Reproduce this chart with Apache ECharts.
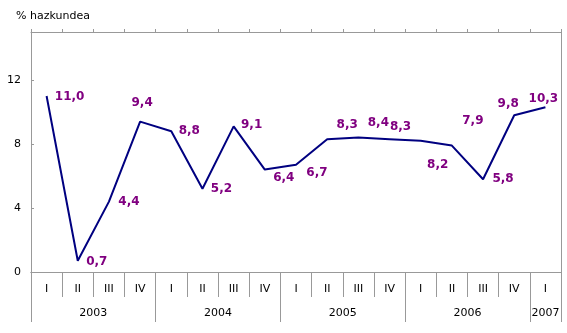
<!DOCTYPE html>
<html>
<head>
<meta charset="utf-8">
<script src="https://cdn.jsdelivr.net/npm/echarts@6/dist/echarts.min.js"></script>
<style>
  html, body { margin: 0; padding: 0; background: #fff; }
  #chart { width: 567px; height: 333px; }
</style>
</head>
<body>
<div id="chart"></div>
<script>
// Quarterly growth rate, 2003 I – 2007 I
const quarters = ['I','II','III','IV','I','II','III','IV','I','II','III','IV','I','II','III','IV','I'];
const growth = [11.0, 0.7, 4.4, 9.4, 8.8, 5.2, 9.1, 6.4, 6.7, 8.3, 8.4, 8.3, 8.2, 7.9, 5.8, 9.8, 10.3];
const years = ['2003', '2004', '2005', '2006', '2007'];
const quartersPerYear = [4, 4, 4, 4, 1];
const yTicks = [0, 4, 8, 12];

// Where each value label sits relative to its point (dx, dy in px)
const labelOffsets = [
  [23, 1], [19, 1], [20, 0], [2, -19], [18, 0], [19, 0], [18, -2], [19, 8],
  [21, 8], [20, -14], [20, -15], [11, -12], [17, 24], [21, -25], [20, 0], [-6, -11], [-2, -8]
];

// Year axis runs on half-quarter slots so every year name can sit centred
// under its own quarters and the dividers fall on year boundaries.
const yearSlots = new Array(2 * quarters.length + 1).fill('');
const yearLabelIdx = new Set();
const yearTickIdx = new Set([0]);
let pos = 0;
years.forEach((y, i) => {
  const mid = pos * 2 + quartersPerYear[i];
  yearSlots[mid] = y;
  yearLabelIdx.add(mid);
  pos += quartersPerYear[i];
  yearTickIdx.add(pos * 2);
});

const gray = '#999999';
const font = 'DejaVu Sans, Verdana, sans-serif';

const chart = echarts.init(document.getElementById('chart'), null, { renderer: 'canvas' });
chart.setOption({
  animation: false,
  backgroundColor: '#ffffff',
  title: {
    text: '% hazkundea',
    left: 11, top: 6,
    textStyle: { fontFamily: font, fontSize: 11, fontWeight: 'normal', color: '#000' }
  },
  grid: { left: 31, top: 32, right: 6, bottom: 61, containLabel: false },
  xAxis: [
    {
      type: 'category',
      data: quarters,
      boundaryGap: true,
      position: 'bottom',
      axisLine: { show: true, lineStyle: { color: gray, width: 1 } },
      axisTick: { show: true, length: 25, interval: 0, lineStyle: { color: gray } },
      axisLabel: { interval: 0, margin: 12, fontFamily: font, fontSize: 11, color: '#000' },
      splitLine: { show: false }
    },
    {
      type: 'category',
      data: yearSlots,
      boundaryGap: false,
      position: 'bottom',
      axisLine: { show: true, lineStyle: { color: gray, width: 1 } },
      axisTick: { show: true, length: 50, interval: (i) => yearTickIdx.has(i), lineStyle: { color: gray } },
      axisLabel: { interval: (i) => yearLabelIdx.has(i), margin: 36, fontFamily: font, fontSize: 11, color: '#000' },
      splitLine: { show: false }
    },
    {
      type: 'category',
      data: quarters,
      boundaryGap: true,
      position: 'top',
      axisLine: { show: true, lineStyle: { color: gray, width: 1 } },
      axisTick: { show: true, length: 3, interval: 0, lineStyle: { color: gray } },
      axisLabel: { show: false },
      splitLine: { show: false }
    }
  ],
  yAxis: [
    {
      type: 'value',
      min: 0, max: 15, interval: 4,
      axisLine: { show: true, lineStyle: { color: gray, width: 1 } },
      axisTick: { show: true, inside: true, length: 3, lineStyle: { color: gray } },
      axisLabel: {
        margin: 10, fontFamily: font, fontSize: 11, color: '#000', showMaxLabel: false,
        formatter: (v) => (yTicks.includes(v) ? String(v) : '')
      },
      splitLine: { show: false }
    },
    {
      type: 'value',
      position: 'right',
      min: 0, max: 15,
      axisLine: { show: true, lineStyle: { color: gray, width: 1 } },
      axisTick: { show: false },
      axisLabel: { show: false },
      splitLine: { show: false }
    }
  ],
  series: [
    {
      type: 'line',
      xAxisIndex: 0,
      yAxisIndex: 0,
      data: growth,
      symbol: 'circle',
      symbolSize: 1,
      itemStyle: { color: 'rgba(0,0,0,0)' },
      lineStyle: { color: '#000080', width: 2 },
      label: {
        show: true,
        position: 'inside',
        color: '#800080',
        fontFamily: font,
        fontSize: 12,
        fontWeight: 'bold',
        formatter: (p) => p.value.toFixed(1).replace('.', ',')
      },
      labelLayout: (p) => ({
        dx: labelOffsets[p.dataIndex][0],
        dy: labelOffsets[p.dataIndex][1],
        hideOverlap: false
      }),
      emphasis: { disabled: true }
    }
  ]
});
</script>
</body>
</html>
